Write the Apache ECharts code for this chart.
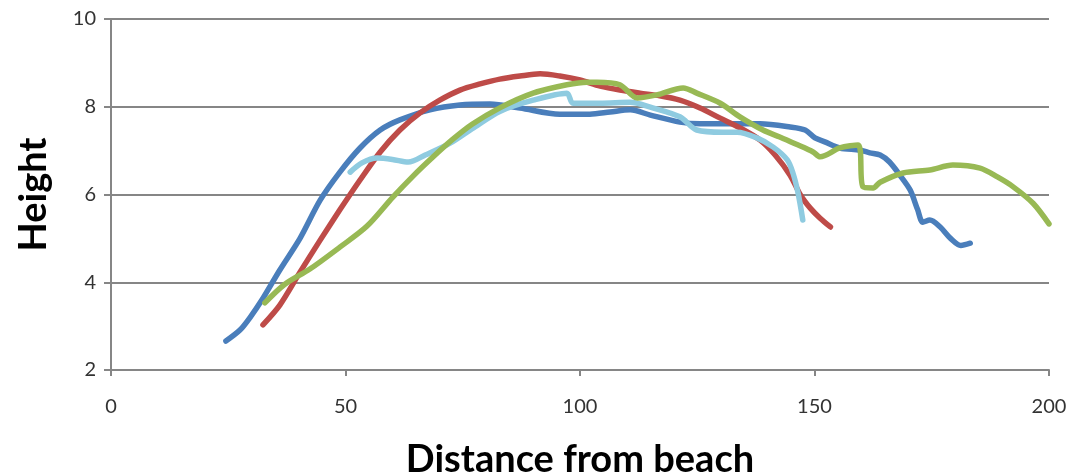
<!DOCTYPE html>
<html>
<head>
<meta charset="utf-8">
<script src="https://cdn.jsdelivr.net/npm/echarts@6/dist/echarts.min.js"></script>
<style>
html,body{margin:0;padding:0;background:#fff;}
#c{width:1071px;height:476px;}
</style>
</head>
<body>
<div id="c"></div>
<script>
const xTicks = [0, 50, 100, 150, 200];
const yTicks = [2, 4, 6, 8, 10];

const blue = [[24.5,2.66],[27.5,2.91],[29.6,3.19],[32.2,3.6],[36,4.28],[40.3,5.0],[44.6,5.87],[48.8,6.51],[53.1,7.06],[57.4,7.47],[61.6,7.70],[68,7.93],[74.4,8.04],[80.8,8.06],[87.2,7.97],[95.7,7.83],[102.1,7.83],[106.4,7.88],[110.7,7.93],[115,7.81],[121.3,7.65],[125.6,7.61],[134.1,7.61],[138.4,7.61],[144.8,7.54],[148,7.47],[150.1,7.29],[152.2,7.2],[155.4,7.06],[159.7,7.01],[161.8,6.95],[164,6.9],[166,6.74],[168.2,6.44],[170.4,6.1],[172,5.65],[173.1,5.37],[174.6,5.42],[176.8,5.26],[179,5.0],[181.2,4.84],[183.2,4.89]];

const red = [[32.4,3.03],[36,3.48],[40.3,4.23],[44.6,4.96],[48.8,5.65],[53.1,6.33],[57.4,6.97],[61.6,7.47],[65.9,7.86],[70.1,8.15],[74.4,8.38],[78.7,8.52],[82.9,8.63],[87.2,8.70],[91.5,8.75],[95.7,8.70],[100,8.61],[104.3,8.47],[108.5,8.38],[112.8,8.31],[117,8.25],[121.3,8.15],[125.6,7.97],[129.9,7.74],[134.1,7.52],[138.4,7.24],[141.6,6.9],[144.8,6.44],[147,5.99],[149.1,5.69],[151.2,5.46],[153.4,5.26]];

const lightBlue = [[51,6.51],[53.5,6.72],[56.7,6.83],[60,6.80],[63.4,6.74],[67,6.9],[72.3,7.17],[77,7.5],[83,7.90],[90,8.15],[97.2,8.31],[98.5,8.08],[104.3,8.08],[110.7,8.1],[115,7.99],[121.3,7.77],[124.9,7.47],[130.5,7.42],[133.5,7.42],[137.7,7.29],[141.2,7.08],[144.2,6.79],[145.4,6.49],[146.5,6.03],[147.5,5.42]];

const green = [[32.8,3.53],[37,3.95],[42.4,4.30],[48.8,4.80],[54.6,5.28],[60.1,5.94],[64.4,6.42],[68.7,6.86],[72.9,7.26],[77,7.6],[83,7.98],[90,8.31],[97.2,8.5],[101.5,8.56],[103.6,8.56],[108.5,8.5],[112.2,8.2],[116.4,8.27],[122,8.43],[124.9,8.31],[129.9,8.08],[134.1,7.77],[139,7.47],[142.6,7.31],[146,7.15],[149.7,6.97],[151.2,6.86],[155.4,7.06],[159.3,7.13],[160.3,6.18],[162.5,6.15],[164,6.28],[168.9,6.49],[174.6,6.56],[179.5,6.67],[185.3,6.6],[189,6.4],[192.3,6.18],[196.6,5.8],[200,5.33]];

const chart = echarts.init(document.getElementById('c'), null, {renderer:'canvas'});
const font = 'Lato, "Open Sans", sans-serif';
function mk(data, color){
  return {type:'line', data:data, showSymbol:false, smooth:0.3,
    lineStyle:{color:color, width:5.5, cap:'round', join:'round'}, itemStyle:{color:color}, z:3};
}
chart.setOption({
  animation:false,
  backgroundColor:'#ffffff',
  grid:{left:111, right:22, top:19, bottom:106, containLabel:false, outerBoundsMode:'none'},
  xAxis:{type:'value', min:0, max:200, interval:50,
    name:'Distance from beach', nameLocation:'middle', nameGap:71,
    nameTextStyle:{fontFamily:font, fontWeight:'bold', fontSize:38, color:'#000'},
    axisLine:{show:true, lineStyle:{color:'#868686', width:2}},
    axisTick:{show:true, length:6, lineStyle:{color:'#868686', width:2}},
    axisLabel:{fontFamily:font, fontSize:20, color:'#333', margin:27},
    splitLine:{show:false}},
  yAxis:{type:'value', min:2, max:10, interval:2,
    name:'Height', nameLocation:'middle', nameGap:58, nameRotate:90,
    nameTextStyle:{fontFamily:font, fontWeight:'bold', fontSize:38, color:'#000'},
    axisLine:{show:true, lineStyle:{color:'#868686', width:2}},
    axisTick:{show:true, length:7, lineStyle:{color:'#868686', width:2}},
    axisLabel:{fontFamily:font, fontSize:20, color:'#333', margin:15},
    splitLine:{show:true, lineStyle:{color:'#868686', width:2}}},
  series:[mk(blue,'#4A7EBB'), mk(red,'#BE4B48'), mk(lightBlue,'#8FCBE0'), mk(green,'#98B954')]
});
</script>
</body>
</html>
